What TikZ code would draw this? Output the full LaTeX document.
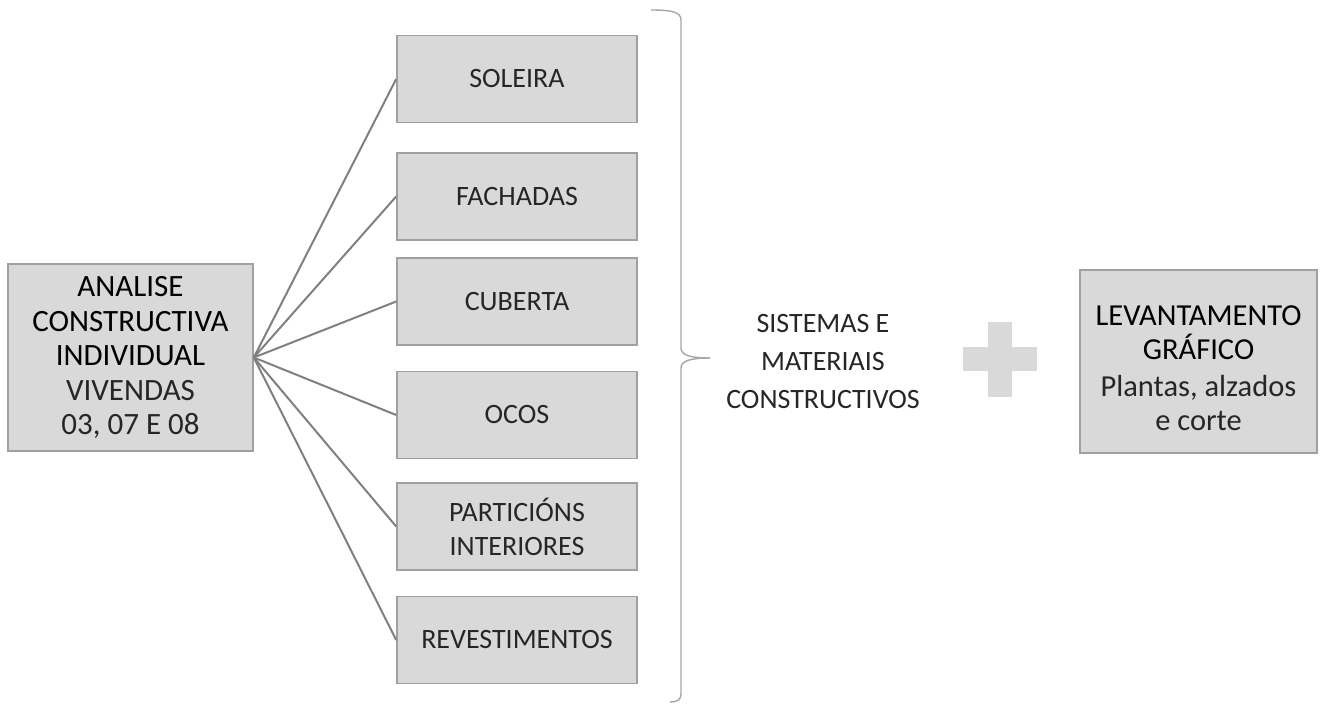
\documentclass[tikz,border=0pt]{standalone}
\usepackage{fontspec}
\setmainfont{Carlito}
\definecolor{boxfill}{HTML}{D9D9D9}
\definecolor{boxline}{HTML}{A0A0A0}
\definecolor{connline}{HTML}{808080}
\definecolor{bracecol}{HTML}{A6A6A6}
\definecolor{lighttext}{HTML}{262626}
\begin{document}
\begin{tikzpicture}[x=1pt,y=-1pt,
  box/.style={draw=boxline, fill=boxfill, line width=1.6pt, minimum width=240pt, minimum height=87pt,
    inner sep=0pt, align=center, font=\fontsize{28}{34}\selectfont, text=lighttext},
  plain/.style={inner sep=0pt, align=center, text=lighttext},
  conn/.style={draw=connline, line width=2pt},
  brace/.style={draw=bracecol, line width=1.4pt},
  plusfill/.style={fill=boxfill, draw=none}]
\useasboundingbox (0,0) rectangle (1320,704);

% left box
\node[box, minimum width=245pt, minimum height=187pt, font=\fontsize{31}{34.5}\selectfont] (main) at (130.5,357.5)
  {\textcolor{black}{ANALISE}\\\textcolor{black}{CONSTRUCTIVA}\\\textcolor{black}{INDIVIDUAL}\\VIVENDAS\\03, 07 E 08};

% middle boxes
\node[box] (soleira) at (517,79) {SOLEIRA};
\node[box] (fachadas) at (517,196.5) {FACHADAS};
\node[box] (cuberta) at (517,301.5) {CUBERTA};
\node[box] (ocos) at (517,415) {OCOS};
\node[box] (particions) at (517,526.5) {PARTICIÓNS\\INTERIORES};
\node[box] (revest) at (517,640) {REVESTIMENTOS};

% connectors
\foreach \t in {soleira,fachadas,cuberta,ocos,particions,revest}
  \draw[conn] (main.east) -- (\t.west);

% brace
\draw[brace] (651,10) .. controls (672,10) and (681,12) .. (681,20) -- (681,348)
  .. controls (681,355) and (690,358) .. (710,358);
\draw[brace] (710,358) .. controls (690,358) and (681,361) .. (681,368) -- (681,694)
  .. controls (681,700) and (677,702) .. (670,702);

% sistemas text
\node[plain, font=\fontsize{28}{38}\selectfont] (sistemas) at (823,362) {SISTEMAS E\\MATERIAIS\\CONSTRUCTIVOS};

% plus sign
\fill[plusfill] (988,322) rectangle (1012,397);
\fill[plusfill] (963,347) rectangle (1037,371);

% right box
\node[box, minimum width=237pt, minimum height=183pt] (lev) at (1198.5,361.5) {};
\node[plain, font=\fontsize{30.5}{33.5}\selectfont] (levtext) at (1198.5,368)
  {\textcolor{black}{LEVANTAMENTO}\\\textcolor{black}{GRÁFICO}\\[4pt]Plantas, alzados\\e corte};
\end{tikzpicture}
\end{document}
